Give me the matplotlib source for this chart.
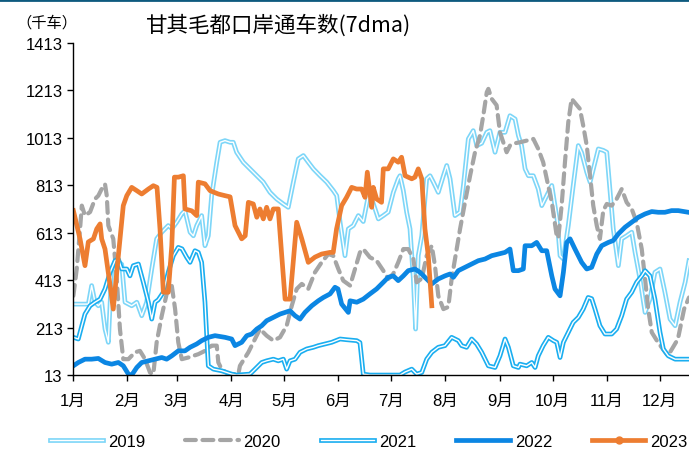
import matplotlib
matplotlib.use("Agg")
import matplotlib.pyplot as plt
import matplotlib.patheffects as pe
from matplotlib.lines import Line2D

plt.rcParams['font.family'] = ['Liberation Sans', 'Noto Sans CJK SC']
plt.rcParams['axes.spines.right'] = False
plt.rcParams['axes.spines.top'] = False

# axis labels
months = ['1月', '2月', '3月', '4月', '5月', '6月', '7月', '8月', '9月', '10月', '11月', '12月']
month_start = [0, 31, 59, 90, 120, 151, 181, 212, 243, 273, 304, 334]
y_ticks = [13, 213, 413, 613, 813, 1013, 1213, 1413]

# 2019 (day of year, vehicles in thousand, 7dma)
days_2019 = [0, 1, 8.7, 10.6, 12.5, 14.4, 16.3, 18.2, 20.1, 22, 24.9, 27.7, 29.6, 33.4, 36.3, 39.1, 41.9,
             44.8, 47.6, 50.5, 54.2, 56.3, 59, 61.9, 63.7, 66.6, 68.5, 70.4, 73.2, 75.1, 77, 78.9, 81.8,
             83.7, 86.5, 89.4, 91.2, 93.1, 96.9, 100.7, 104.6, 108.3, 112.1, 115.9, 119.7, 122.5, 125.4,
             128.2, 131.1, 133.9, 136.8, 140.6, 144.4, 148.2, 150.1, 152, 154.8, 156.7, 159.5, 162.4,
             165.2, 168.1, 170.7, 173.8, 176.6, 179.4, 182.3, 185.1, 186.1, 188, 189.9, 191.8, 193.7,
             195, 196.5, 198.5, 201.3, 203.2, 205.1, 207.9, 210.8, 212.7, 214.6, 217.4, 220.3, 222.2,
             225, 227.8, 229.8, 232.6, 235.5, 237.3, 240.2, 243, 245.9, 248.7, 251.6, 253.5, 255.3,
             257.3, 259.2, 262, 264.8, 266.8, 269.6, 272.5, 275.5, 277.2, 279.1, 281.9, 284.7, 287.6,
             289.5, 292.4, 294.3, 297.1, 299, 301.8, 303.8, 305.6, 307.5, 310.4, 312.3, 315.1, 318,
             319.9, 322.7, 325.6, 328.4, 331.2, 334.1, 336.9, 339.8, 342.7, 345.5, 348.4, 350.6]
vals_2019 = [312, 312, 312, 390, 320, 305, 320, 207, 151, 460, 495, 480, 320, 305, 320, 263, 320,
             460, 587, 615, 643, 630, 657, 692, 706, 615, 600, 643, 685, 558, 600, 769, 910,
             994, 1001, 994, 994, 952, 910, 882, 853, 826, 783, 755, 734, 720, 826,
             924, 938, 910, 882, 853, 826, 790, 769, 657, 516, 629, 643, 685,
             660, 769, 740, 671, 685, 700, 783, 840, 853, 790, 699, 629, 418,
             207, 516, 600, 840, 853, 826, 783, 853, 896, 840, 685, 700, 812,
             1008, 1043, 980, 990, 1036, 1043, 952, 1036, 1036, 1106, 1092, 1022, 980,
             882, 853, 853, 797, 727, 769, 812, 671, 516, 502, 643, 812, 980,
             950, 868, 826, 910, 966, 960, 952, 797, 629, 474, 587, 600, 615,
             530, 418, 277, 333, 446, 460, 362, 249, 221, 320, 404, 495]

# 2020
days_2020 = [0.2, 2.1, 4, 5, 6.8, 9.7, 12.5, 14.4, 16.3, 18.2, 19.2, 20.1, 22.9, 24.9, 26.7, 28.6, 31.5,
             35.3, 38.1, 41, 43.8, 45.7, 47.6, 50.5, 53.3, 56.2, 58.1, 59.9, 61.9, 65.6, 71.3, 75.1,
             78.9, 81.8, 82.7, 84.6, 88.4, 94.1, 95, 99.8, 103.6, 106.4, 110.2, 114, 117.8, 121.6,
             124.5, 127.3, 130.2, 133.9, 137.7, 141.5, 145.3, 148.1, 151, 153.8, 157.7, 160.5, 163.3,
             165.2, 169, 172.8, 176.6, 179.4, 182.3, 185.1, 188, 190.8, 193.7, 195.6, 198.5, 201.3,
             204.2, 206, 207.9, 210.8, 213.6, 215.5, 217.4, 220.3, 223.1, 226, 228.8, 231.6, 233.5,
             235.5, 236.4, 238.3, 241.1, 243, 244.9, 246.8, 248.7, 251.6, 254.4, 258.2, 262, 264.8,
             267.6, 270.5, 272.5, 273.9, 275.3, 276.2, 278.1, 280, 281.9, 283.8, 285.7, 288.5, 290.4,
             292.4, 294.3, 296.1, 298.1, 299.9, 301.8, 303.8, 306.6, 309.4, 312.3, 315.1, 318, 320.8,
             323.7, 325.6, 327.4, 329.4, 333, 338.6, 344.3, 347.8, 350.6]
vals_2020 = [347, 460, 629, 727, 685, 700, 755, 769, 797, 818, 769, 643, 587, 418, 207, 80, 80,
             109, 115, 80, 24, 17, 151, 263, 355, 390, 291, 151, 80, 87, 101, 115,
             137, 137, 66, 38, 17, 17, 52, 109, 165, 207, 179, 158, 172, 221,
             305, 376, 397, 376, 446, 488, 523, 516, 460, 411, 390, 460, 530,
             544, 509, 495, 453, 418, 440, 488, 544, 544, 502, 404, 420, 516,
             558, 474, 347, 291, 300, 418, 502, 629, 741, 853, 952, 1022, 1106,
             1205, 1219, 1177, 1150, 1036, 994, 952, 980, 990, 994, 1001, 1008, 966,
             910, 810, 741, 671, 600, 590, 727, 910, 1079, 1177, 1160, 1135, 1064,
             980, 853, 727, 643, 587, 706, 734, 727, 755, 797, 741, 713, 657,
             544, 418, 291, 193, 150, 94, 165, 291, 340]

# 2021
days_2021 = [0.2, 3, 5, 6.8, 9.7, 12.5, 15.4, 18.2, 21.1, 23.9, 25.8, 27.7, 30.6, 32.4, 34.3, 37.2, 40,
             42.9, 44.8, 46.7, 48.5, 51.4, 54.2, 57.1, 59.9, 62, 64.7, 66.6, 69.4, 71.3, 73.2, 75.1,
             76.1, 77, 79.9, 84.6, 90.3, 93.1, 100.7, 103.6, 107.4, 110.2, 114, 116.8, 119.7, 121.6,
             123.5, 126.4, 129.2, 133, 136.8, 139.6, 143.4, 147.2, 152, 155.7, 161.5, 163.3, 165.2,
             169, 186.1, 189, 192.8, 195.6, 198.5, 201.3, 204.2, 207.9, 211.7, 215.5, 219.3, 221.2,
             224, 226.9, 229.7, 232.6, 236.4, 240.2, 243, 245.9, 247.8, 250.6, 253.5, 254.4, 258.2,
             261.1, 263, 264.8, 267.6, 270.5, 273.4, 275.3, 277.2, 279.1, 281.9, 284.7, 287.6, 290.4,
             293.2, 295.2, 297.1, 299.9, 302.8, 306.6, 309.4, 312.3, 315.1, 318, 320.8, 323.7, 325.6,
             328.4, 331.2, 334.1, 336, 338.8, 342.7, 350.3]
vals_2021 = [172, 165, 221, 270, 305, 320, 333, 376, 446, 495, 502, 460, 460, 431, 474, 481, 404,
             320, 249, 320, 330, 362, 446, 516, 551, 545, 509, 488, 537, 530, 488, 320,
             179, 52, 38, 31, 17, 13, 17, 38, 66, 73, 80, 73, 80, 38,
             73, 80, 109, 123, 130, 137, 144, 151, 165, 162, 158, 150, 17,
             13, 13, 26, 38, 17, 24, 80, 109, 130, 137, 172, 158, 137,
             130, 165, 144, 109, 52, 45, 94, 165, 130, 52, 45, 59, 52,
             66, 45, 94, 137, 172, 158, 151, 87, 151, 193, 235, 256, 291,
             340, 335, 291, 221, 186, 186, 207, 263, 333, 362, 404, 431, 453,
             431, 333, 193, 123, 94, 80, 80]

# 2022
days_2022 = [0.2, 3, 6.8, 10.6, 14.4, 18.2, 22, 25.8, 28.6, 31.5, 33.4, 36.3, 39.1, 42.9, 46.7, 50.5,
             53.3, 56.2, 59.9, 63.7, 66.6, 70.4, 73.2, 77, 80.8, 86.5, 90.3, 92.2, 96, 98.9, 101.7,
             104.6, 107.4, 110.2, 114, 117.8, 120.7, 123.5, 126.4, 129.2, 132, 135.9, 139.6, 142.5,
             146.3, 149.1, 150.8, 152.9, 156.7, 157.7, 161.5, 165.2, 169, 172.8, 176.6, 179.4, 182.3,
             185.1, 188, 190.8, 194.6, 197.5, 200.3, 204.2, 207.9, 211.7, 214.6, 216.5, 219.3, 223.1,
             226.9, 230.7, 234.5, 238.3, 242.1, 245.9, 248.7, 250.6, 253.5, 256.3, 257.3, 261.1,
             263.9, 266.8, 269.6, 272.5, 274.3, 277.2, 279.1, 281, 282.9, 285.7, 289.5, 292.4, 295.2,
             298.1, 300.9, 304.7, 307.5, 310.4, 314.2, 318, 321.8, 325.6, 329.4, 333.1, 336.9, 340.7,
             344.5, 350.2]
vals_2022 = [52, 66, 80, 80, 83, 66, 59, 66, 52, 17, 13, 45, 66, 73, 80, 87,
             80, 94, 115, 115, 130, 144, 158, 172, 179, 172, 165, 137, 151, 179, 186,
             207, 221, 242, 256, 270, 277, 284, 263, 249, 277, 305, 326, 340,
             355, 383, 376, 312, 277, 326, 320, 333, 355, 376, 404, 425, 431,
             411, 431, 453, 460, 446, 425, 397, 418, 431, 439, 425, 453, 467,
             481, 495, 502, 516, 523, 530, 544, 453, 453, 460, 558, 558,
             572, 537, 537, 431, 376, 347, 446, 572, 587, 544, 488, 460, 467,
             523, 558, 572, 580, 608, 636, 657, 678, 692, 702, 699, 699, 706,
             706, 699]

# 2023
days_2023 = [0.2, 4, 6.8, 8.7, 11.6, 13.5, 15.4, 16.3, 18.2, 21.1, 22.9, 25.8, 28.6, 30.6, 33.4, 36.3,
             39.1, 42.9, 45.7, 47.8, 49.5, 51.4, 54.2, 56.2, 57.7, 60, 62.8, 63.7, 67.6, 70.4, 71.3,
             75.1, 78, 82.7, 86.5, 89.4, 92.2, 96, 98, 99.8, 102.6, 104.6, 106.4, 108.3, 110.2, 112.1,
             114, 116.8, 118.8, 120.7, 123.5, 127.3, 130.2, 133.9, 137.7, 141.5, 146.3, 148.1, 150,
             152.9, 155.7, 158.6, 161.4, 164.3, 166.2, 167.5, 170, 170.9, 172.8, 175.6, 176.6, 179.4,
             182.3, 185.1, 187, 189, 192.8, 194.6, 196.5, 198.5, 200.3, 202.2, 204.2]
vals_2023 = [706, 586, 474, 574, 587, 629, 650, 587, 544, 390, 291, 516, 727, 769, 804, 790,
             776, 797, 811, 804, 629, 362, 362, 558, 847, 847, 853, 713, 705, 685, 826,
             819, 790, 776, 769, 764, 643, 587, 600, 741, 734, 678, 713, 671, 720, 671,
             713, 713, 516, 333, 333, 657, 587, 488, 510, 523, 530, 530, 629,
             727, 762, 804, 797, 797, 762, 868, 720, 804, 755, 741, 882, 882,
             924, 910, 931, 853, 840, 847, 882, 840, 629, 516, 305]


def double_line(color):
    # hollow look: coloured outer stroke with a thin white core
    return [pe.Stroke(linewidth=3.4, foreground=color), pe.Normal()]


fig = plt.figure(figsize=(6.89, 4.52), dpi=100)
ax = fig.add_axes([0.106, 0.168, 0.894, 0.735])

ax.plot(days_2019, vals_2019, color='white', lw=1.0, label='2019',
        path_effects=double_line('#7dd6f8'))
ax.plot(days_2020, vals_2020, color='#a5a5a5', lw=3.0, ls=(0, (2.6, 1.6)),
        dash_capstyle='round', label='2020')
ax.plot(days_2021, vals_2021, color='white', lw=1.0, label='2021',
        path_effects=double_line('#1aaef0'))
ax.plot(days_2022, vals_2022, color='#0b86e3', lw=3.4, label='2022')
ax.plot(days_2023, vals_2023, color='#ed7d31', lw=3.4, label='2023')

ax.set_xlim(0, 350.6)
ax.set_ylim(13, 1413)
ax.set_yticks(y_ticks)
ax.set_xticks(month_start)
ax.set_xticklabels(months)
ax.tick_params(direction='out', length=4, width=1, labelsize=12, colors='black')
ax.tick_params(axis='x', pad=9)
for s in ['left', 'bottom']:
    ax.spines[s].set_color('black')
    ax.spines[s].set_linewidth(1)

fig.text(0.405, 0.943, '甘其毛都口岸通车数(7dma)', fontsize=15.5, ha='center', va='center',
         family=['Noto Sans CJK SC', 'Liberation Sans'])
fig.text(0.068, 0.950, '（千车）', fontsize=11, ha='center', va='center',
         family=['Noto Sans CJK SC'])

fig.add_artist(Line2D([0, 1], [0.997, 0.997], transform=fig.transFigure,
                      color='#0d5a7e', lw=2))

handles, labels = ax.get_legend_handles_labels()
# legend entry for 2023 carries a dot marker in the reference
handles[-1] = Line2D([], [], color='#ed7d31', lw=3.4, marker='o', markersize=5)
fig.legend(handles, labels, loc='center', bbox_to_anchor=(0.535, 0.022), ncol=5,
           frameon=False, fontsize=12, handlelength=3.2, handletextpad=0.3,
           columnspacing=2.4)

fig.savefig('out.png', dpi=100)
